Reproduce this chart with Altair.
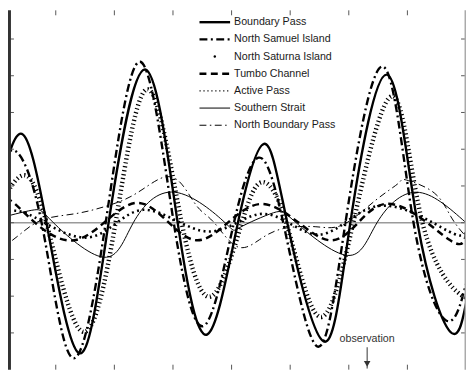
import altair as alt
import pandas as pd

# ---------------- data (time in hours, value in axis-tick units) ----------------
series_names = ["Boundary Pass", "North Samuel Island", "North Saturna Island",
                "Tumbo Channel", "Active Pass", "Southern Strait", "North Boundary Pass"]

bp_t = [0.30, 2.53, 5.05, 8.38, 11.41, 15.15, 18.48, 21.52, 24.65, 27.37, 29.70, 33.43, 36.16, 39.90, 43.03, 46.36, 48.0]
bp_v = [1.00, 2.42, 0.00, -3.55, 0.00, 4.17, 0.00, -3.04, 0.00, 2.15, 0.00, -3.23, 0.00, 4.03, 0.00, -2.96, -2.20]

nsi_t = [0.30, 1.82, 4.55, 7.68, 11.11, 14.65, 18.08, 21.21, 24.24, 26.77, 29.29, 32.73, 35.66, 39.49, 42.63, 45.96, 48.0]
nsi_v = [1.42, 1.96, 0.00, -3.68, 0.00, 4.38, 0.00, -2.80, 0.00, 1.77, 0.00, -3.36, 0.00, 4.25, 0.00, -2.66, -1.67]

nsat_t = [0.30, 2.63, 5.05, 8.69, 12.12, 15.45, 18.89, 22.02, 25.05, 27.07, 29.60, 32.93, 36.46, 40.51, 43.54, 47.47, 48.6]
nsat_v = [0.48, 1.29, 0.00, -2.96, 0.00, 3.63, 0.00, -1.99, 0.00, 1.10, 0.00, -2.55, 0.00, 3.44, 0.00, -1.96, -1.85]

tc_t = [0.30, 1.82, 7.88, 14.44, 20.51, 27.07, 34.14, 39.70, 46.26, 48.0]
tc_v = [0.43, 0.51, -0.48, 0.54, -0.48, 0.51, -0.48, 0.51, -0.46, -0.27]

ap_t = [0.30, 3.13, 9.39, 14.95, 21.52, 27.37, 33.13, 39.19, 46.26, 48.0]
ap_v = [0.13, 0.24, -0.40, 0.35, -0.24, 0.24, -0.32, 0.46, -0.24, -0.19]

ss_t = [0.30, 3.84, 5.76, 10.91, 13.94, 18.18, 23.33, 24.85, 28.28, 30.61, 35.86, 38.89, 42.93, 48.0]
ss_v = [0.13, 0.35, 0.00, -0.94, 0.00, 0.83, 0.00, -0.13, 0.27, 0.00, -0.89, 0.00, 0.83, 0.00]

nbp_t = [0.30, 2.32, 4.65, 7.88, 10.91, 13.94, 16.77, 18.79, 20.51, 22.22, 24.55, 26.87, 29.29, 32.63, 35.45, 38.79, 41.11, 41.92, 44.75, 46.46, 48.0]
nbp_v = [-0.73, -0.32, 0.08, 0.24, 0.43, 0.75, 1.21, 1.08, 0.43, 0.00, -0.65, -0.46, -0.16, -0.11, -0.05, 0.62, 1.08, 1.16, 0.81, 0.16, -0.38]

x_ticks = [6, 12, 18, 24, 30, 36, 42]
y_ticks = [-3, -2, -1, 0, 1, 2, 3, 4, 5]

obs_label = ["observation"]
obs_t = [37.88]
obs_text_v = [-3.17]
obs_arrow_v0 = [-3.39]
obs_arrow_v1 = [-3.97]
obs_head_v = [-3.84]

# ---------------- layout ----------------
W, H = 464, 364
x_scale = alt.Scale(domain=[1.11, 48.0], nice=False, zero=False)
y_scale = alt.Scale(domain=[-4.0, 5.78], nice=False, zero=False)
FONT = "Liberation Sans"

def X(f="t"):
    return alt.X(f + ":Q", scale=x_scale, axis=None)

def Y(f="v"):
    return alt.Y(f + ":Q", scale=y_scale, axis=None)

styles = {
    "Boundary Pass": dict(strokeWidth=2.4),
    "North Samuel Island": dict(strokeWidth=2.4, strokeDash=[8, 3.5, 2, 3.5]),
    "North Saturna Island": dict(strokeWidth=4.5, strokeDash=[1.2, 2.8]),
    "Tumbo Channel": dict(strokeWidth=2.5, strokeDash=[7, 4.5]),
    "Active Pass": dict(strokeWidth=2.6, strokeDash=[2, 3.5]),
    "Southern Strait": dict(strokeWidth=1.0),
    "North Boundary Pass": dict(strokeWidth=1.0, strokeDash=[7, 3.5, 1.5, 3.5]),
}
series_data = {
    "Boundary Pass": (bp_t, bp_v),
    "North Samuel Island": (nsi_t, nsi_v),
    "North Saturna Island": (nsat_t, nsat_v),
    "Tumbo Channel": (tc_t, tc_v),
    "Active Pass": (ap_t, ap_v),
    "Southern Strait": (ss_t, ss_v),
    "North Boundary Pass": (nbp_t, nbp_v),
}

layers = []

# zero line
layers.append(alt.Chart(pd.DataFrame({"v": [0]})).mark_rule(color="#9a9a9a", strokeWidth=1.5).encode(y=Y()))

# curves (thin first, heavy on top)
draw_order = ["Southern Strait", "North Boundary Pass", "Active Pass", "Tumbo Channel",
              "North Saturna Island", "North Samuel Island", "Boundary Pass"]
for name in draw_order:
    t, v = series_data[name]
    df = pd.DataFrame({"t": t, "v": v, "series": name})
    layers.append(alt.Chart(df).mark_line(color="black", interpolate="natural", clip=True,
                                          **styles[name]).encode(x=X(), y=Y()))

# frame ticks
xt = pd.DataFrame({"t": x_ticks})
yt = pd.DataFrame({"v": y_ticks})
tick_col = "#555555"
layers.append(alt.Chart(xt).mark_rule(color=tick_col).encode(x=X(), y=alt.value(0), y2=alt.value(5)))
layers.append(alt.Chart(xt).mark_rule(color=tick_col).encode(x=X(), y=alt.value(H - 5), y2=alt.value(H)))
layers.append(alt.Chart(yt).mark_rule(color=tick_col).encode(y=Y(), x=alt.value(0), x2=alt.value(6)))
layers.append(alt.Chart(yt).mark_rule(color=tick_col).encode(y=Y(), x=alt.value(W - 5), x2=alt.value(W)))

# frame borders
one = pd.DataFrame({"a": [0]})
layers.append(alt.Chart(one).mark_rule(color="#333333", strokeWidth=3).encode(
    x=alt.value(1.5), y=alt.value(0), y2=alt.value(H)))
layers.append(alt.Chart(one).mark_rule(color="#aaaaaa", strokeWidth=1.5).encode(
    x=alt.value(W - 0.75), y=alt.value(0), y2=alt.value(H)))

# legend
LX0, LX1, TX, LY0, DY = 194, 225, 229, 12, 17.4
for i, name in enumerate(series_names):
    ly = LY0 + DY * i
    ldf = pd.DataFrame({"name": [name]})
    if name == "North Saturna Island":
        layers.append(alt.Chart(ldf).mark_circle(color="black", size=6, opacity=1).encode(
            x=alt.value((LX0 + LX1) / 2), y=alt.value(ly)))
    else:
        st = dict(styles[name])
        if name == "Active Pass":
            st = dict(strokeWidth=1.3, strokeDash=[1.2, 2.8])
        layers.append(alt.Chart(ldf).mark_rule(color="black", **st).encode(
            x=alt.value(LX0), x2=alt.value(LX1), y=alt.value(ly)))
    layers.append(alt.Chart(ldf).mark_text(align="left", baseline="middle", font=FONT,
                                           fontSize=10.8, color="#1a1a1a").encode(
        x=alt.value(TX), y=alt.value(ly), text="name:N"))

# observation annotation
obs = pd.DataFrame({"label": obs_label, "t": obs_t, "tv": obs_text_v,
                    "v0": obs_arrow_v0, "v1": obs_arrow_v1, "vh": obs_head_v})
layers.append(alt.Chart(obs).mark_text(font=FONT, fontSize=10.8, color="#333333",
                                       baseline="middle").encode(x=X(), y=Y("tv"), text="label:N"))
layers.append(alt.Chart(obs).mark_rule(color="#333333", strokeWidth=1).encode(
    x=X(), y=Y("v0"), y2="v1:Q"))
layers.append(alt.Chart(obs).mark_point(shape="triangle-down", filled=True, color="#333333",
                                        size=45, opacity=1).encode(x=X(), y=Y("vh")))

chart = alt.layer(*layers).properties(
    width=W, height=H, padding=0,
    autosize=alt.AutoSizeParams(type="none"),
).configure_view(stroke=None)

chart.save("out.html", embed_options={"renderer": "svg", "actions": False})
